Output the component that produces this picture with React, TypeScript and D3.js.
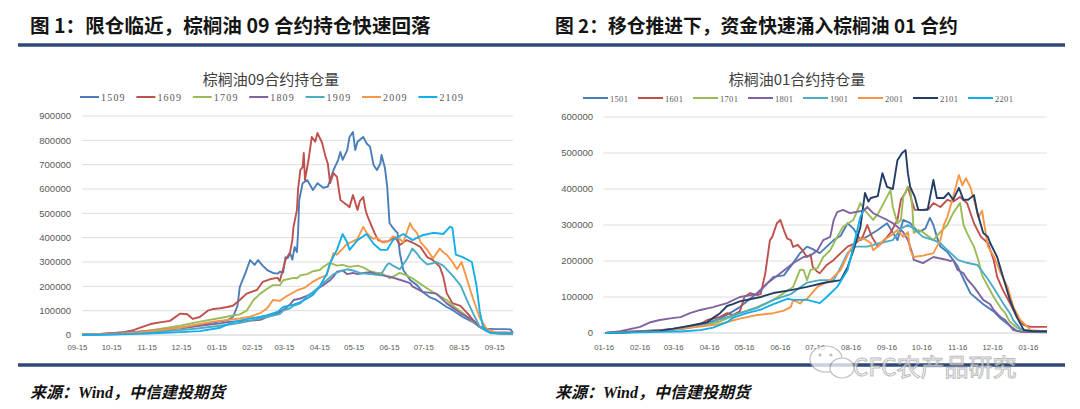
import React from "react";
import * as d3 from "d3";

// ---------- Figure 1: palm oil 09 contracts (open interest, thousand lots) ----------
const leftContracts = ["1509", "1609", "1709", "1809", "1909", "2009", "2109"];
const leftColors = ["#4A7EBB", "#C0504D", "#9BBB59", "#8064A2", "#4BACC6", "#F79646", "#14AEEB"];
const leftTickDates = [
  "2014-09-15", "2014-10-15", "2014-11-15", "2014-12-15", "2015-01-15", "2015-02-15", "2015-03-15",
  "2015-04-15", "2015-05-15", "2015-06-15", "2015-07-15", "2015-08-15", "2015-09-15",
];
const leftYTicks = [0, 100000, 200000, 300000, 400000, 500000, 600000, 700000, 800000, 900000];
const leftBase = "2014-09-15";
const leftDomain = ["2014-09-19", "2015-10-01"];

// [day offset from base date, open interest in thousands]
const s1509: [number, number][] = [
  [4, 1], [20, 3], [38, 8], [55, 14], [64, 18], [81, 25], [96, 32], [107, 42], [119, 52], [131, 60], [136, 74],
  [140, 120], [142, 197], [147, 255], [151, 308], [155, 288], [158, 308], [162, 285], [166, 267], [171, 255],
  [175, 252], [177, 260], [180, 257], [182, 320], [184, 316], [186, 337], [188, 310], [190, 362], [192, 341],
  [193, 420], [194, 555], [197, 624], [201, 637], [206, 596], [210, 624], [215, 605], [219, 610], [224, 678],
  [228, 719], [230, 752], [232, 720], [236, 760], [238, 814], [241, 834], [243, 760], [245, 794], [250, 814],
  [253, 787], [256, 773], [259, 699], [262, 678], [265, 705], [266, 740], [269, 686], [271, 608], [273, 460],
  [276, 440], [280, 419], [282, 337], [285, 267], [291, 226], [297, 205], [302, 177], [308, 156], [314, 144],
  [323, 115], [328, 103], [337, 74], [346, 53], [352, 33], [358, 26], [365, 24], [374, 24], [379, 23], [381, 8],
];
const s1609: [number, number][] = [
  [4, 1], [20, 4], [38, 10], [49, 20], [55, 30], [64, 45], [72, 52], [81, 58], [90, 88], [96, 85], [101, 66],
  [107, 74], [114, 100], [119, 107], [125, 110], [131, 115], [136, 120], [142, 144], [148, 170], [157, 185],
  [162, 218], [169, 230], [175, 235], [177, 222], [182, 308], [186, 340], [188, 390], [189, 444], [192, 514],
  [193, 600], [195, 678], [197, 690], [198, 748], [199, 637], [202, 715], [205, 814], [208, 794], [210, 830],
  [214, 790], [217, 733], [219, 705], [221, 624], [224, 665], [227, 650], [230, 555], [234, 540], [236, 534],
  [238, 525], [241, 575], [245, 514], [247, 550], [250, 567], [252, 514], [254, 485], [258, 440], [260, 419],
  [263, 390], [267, 383], [272, 385], [278, 403], [282, 370], [288, 390], [293, 380], [300, 362], [306, 320],
  [311, 308], [317, 280], [320, 240], [323, 172], [328, 131], [335, 120], [341, 90], [346, 62], [352, 33],
  [358, 20], [365, 12], [374, 10], [381, 9],
];
const s1709: [number, number][] = [
  [4, 1], [20, 3], [38, 7], [55, 14], [72, 25], [90, 38], [107, 55], [125, 70], [136, 80], [142, 85], [148, 100],
  [154, 144], [160, 170], [166, 190], [171, 205], [177, 205], [180, 225], [189, 235], [192, 233], [195, 245],
  [201, 250], [203, 255], [206, 262], [212, 267], [215, 280], [219, 292], [221, 296], [227, 285], [232, 288],
  [238, 280], [245, 285], [250, 278], [256, 262], [262, 255], [265, 255], [271, 240], [273, 233], [278, 245],
  [282, 255], [288, 245], [293, 233], [300, 210], [308, 185], [315, 165], [323, 144], [330, 115], [337, 90],
  [346, 55], [352, 33], [358, 18], [365, 8], [374, 6], [381, 5],
];
const s1809: [number, number][] = [
  [4, 1], [20, 4], [38, 9], [55, 14], [72, 20], [90, 28], [107, 38], [125, 48], [134, 55], [148, 58], [160, 62],
  [166, 74], [175, 90], [180, 103], [186, 125], [189, 144], [193, 148], [195, 150], [203, 165], [210, 190],
  [215, 205], [221, 225], [224, 240], [227, 260], [232, 265], [236, 250], [241, 255], [245, 250], [250, 255],
  [256, 258], [262, 250], [267, 245], [273, 240], [282, 227], [291, 213], [293, 200], [302, 177], [314, 170],
  [323, 130], [335, 90], [346, 60], [352, 33], [358, 18], [365, 8], [374, 5], [381, 4],
];
const s1909: [number, number][] = [
  [4, 0], [20, 2], [38, 4], [55, 8], [72, 14], [90, 20], [107, 28], [125, 38], [136, 45], [148, 55], [160, 70],
  [169, 78], [177, 86], [180, 100], [186, 110], [189, 120], [195, 130], [201, 160], [206, 175], [212, 200],
  [218, 225], [224, 250], [230, 262], [236, 270], [241, 265], [247, 255], [256, 250], [265, 245], [271, 290],
  [273, 295], [276, 285], [282, 270], [288, 310], [293, 355], [297, 335], [300, 315], [306, 290], [311, 295],
  [314, 300], [320, 285], [323, 270], [328, 245], [335, 205], [341, 140], [346, 90], [352, 33], [358, 15],
  [365, 8], [374, 6], [381, 5],
];
const s2009: [number, number][] = [
  [4, 1], [20, 3], [38, 6], [55, 12], [72, 20], [90, 30], [107, 45], [119, 55], [131, 62], [142, 68], [151, 75],
  [160, 90], [166, 110], [171, 144], [177, 140], [183, 160], [192, 183], [199, 195], [205, 216], [212, 235],
  [218, 245], [224, 337], [227, 330], [232, 355], [236, 375], [241, 385], [245, 395], [250, 444], [253, 420],
  [256, 405], [259, 395], [262, 400], [267, 380], [272, 385], [276, 405], [282, 395], [285, 380], [288, 420],
  [291, 460], [293, 440], [297, 420], [300, 383], [306, 350], [311, 315], [317, 355], [320, 340], [323, 330],
  [328, 300], [332, 270], [336, 300], [341, 225], [346, 150], [352, 70], [358, 25], [365, 10], [374, 6], [381, 5],
];
const s2109: [number, number][] = [
  [4, 0], [20, 1], [38, 3], [55, 5], [72, 8], [90, 12], [107, 16], [125, 30], [136, 53], [148, 65], [160, 75],
  [166, 82], [175, 95], [180, 115], [189, 125], [195, 135], [201, 150], [206, 165], [212, 200], [218, 250],
  [221, 296], [227, 350], [230, 390], [232, 415], [236, 380], [238, 350], [245, 390], [253, 415], [259, 375],
  [265, 350], [271, 350], [276, 390], [285, 415], [293, 390], [302, 410], [311, 420], [320, 415], [326, 445],
  [328, 440], [331, 330], [337, 320], [345, 300], [349, 205], [352, 95], [355, 30], [361, 8], [374, 6], [381, 5],
];
const leftSeries = [s1509, s1609, s1709, s1809, s1909, s2009, s2109];

// ---------- Figure 2: palm oil 01 contracts ----------
const rightContracts = ["1501", "1601", "1701", "1801", "1901", "2001", "2101", "2201"];
const rightColors = ["#4A7EBB", "#C0504D", "#9BBB59", "#8064A2", "#4BACC6", "#F79646", "#243F66", "#14AEEB"];
const rightTickDates = [
  "2016-01-16", "2016-02-16", "2016-03-16", "2016-04-16", "2016-05-16", "2016-06-16", "2016-07-16",
  "2016-08-16", "2016-09-16", "2016-10-16", "2016-11-16", "2016-12-16", "2017-01-16",
];
const rightYTicks = [0, 100000, 200000, 300000, 400000, 500000, 600000];
const rightBase = "2016-01-16";
const rightDomain = ["2016-01-15", "2017-02-01"];

const r1501: [number, number][] = [
  [1, 0], [14, 2], [31, 5], [48, 8], [60, 12], [74, 18], [89, 28], [100, 40], [111, 60], [117, 72], [126, 95],
  [132, 111], [141, 139], [146, 156], [155, 160], [163, 194], [169, 222], [175, 240], [180, 233], [186, 222],
  [192, 240], [198, 258], [204, 270], [210, 305], [215, 290], [221, 258], [228, 270], [236, 286], [244, 305],
  [253, 258], [258, 314], [264, 305], [271, 280], [277, 290], [281, 320], [284, 300], [287, 267], [290, 240],
  [296, 225], [305, 185], [310, 150], [316, 110], [327, 80], [336, 60], [342, 40], [350, 20], [356, 6],
  [365, 3], [382, 3],
];
const r1601: [number, number][] = [
  [1, 0], [14, 2], [31, 5], [48, 8], [66, 12], [83, 25], [89, 36], [100, 45], [106, 55], [111, 50], [117, 60],
  [121, 100], [126, 111], [132, 105], [135, 108], [139, 166], [143, 258], [145, 267], [149, 305], [152, 314],
  [155, 286], [158, 262], [161, 258], [163, 239], [167, 245], [171, 230], [175, 211], [178, 218], [180, 183],
  [184, 170], [186, 166], [192, 189], [198, 203], [204, 222], [210, 240], [217, 250], [223, 267], [227, 300],
  [231, 267], [236, 240], [241, 255], [247, 278], [253, 314], [256, 370], [260, 390], [262, 406], [266, 360],
  [268, 342], [275, 342], [280, 345], [284, 361], [290, 350], [296, 370], [301, 365], [307, 378], [313, 361],
  [319, 305], [325, 267], [331, 250], [336, 203], [339, 156], [344, 119], [350, 83], [356, 44], [362, 22],
  [368, 17], [382, 17],
];
const r1701: [number, number][] = [
  [1, 0], [14, 1], [31, 3], [48, 6], [66, 12], [83, 20], [100, 32], [117, 55], [132, 72], [146, 92], [163, 128],
  [169, 176], [172, 175], [175, 147], [178, 175], [184, 180], [189, 211], [195, 230], [201, 267], [206, 295],
  [215, 314], [221, 361], [225, 340], [232, 314], [236, 330], [244, 378], [247, 397], [249, 350], [253, 305],
  [256, 314], [258, 378], [262, 406], [264, 403], [266, 342], [267, 278], [271, 286], [275, 280], [284, 258],
  [290, 280], [296, 300], [301, 333], [307, 361], [310, 300], [313, 278], [316, 258], [319, 240], [323, 200],
  [326, 160], [331, 130], [336, 100], [342, 70], [346, 55], [350, 31], [356, 15], [362, 5], [370, 3], [382, 3],
];
const r1801: [number, number][] = [
  [1, 0], [14, 5], [31, 17], [40, 30], [48, 36], [60, 42], [66, 44], [74, 55], [83, 64], [94, 72], [106, 83],
  [117, 100], [132, 108], [141, 139], [152, 166], [163, 194], [172, 211], [178, 215], [184, 230], [189, 258],
  [195, 267], [198, 314], [201, 336], [206, 342], [212, 333], [217, 336], [224, 340], [227, 350], [232, 333],
  [237, 325], [244, 314], [249, 305], [253, 295], [258, 280], [262, 258], [266, 220], [267, 203], [270, 200],
  [275, 194], [284, 211], [293, 205], [299, 200], [301, 203], [305, 175], [310, 166], [313, 150], [319, 128],
  [327, 92], [333, 80], [336, 64], [342, 44], [346, 36], [353, 8], [360, 3], [382, 2],
];
const r1901: [number, number][] = [
  [1, 0], [14, 1], [31, 3], [48, 5], [66, 10], [83, 20], [100, 38], [117, 55], [132, 70], [146, 92], [161, 108],
  [175, 140], [186, 147], [198, 147], [204, 183], [210, 222], [217, 240], [227, 240], [238, 250], [249, 258],
  [256, 290], [262, 300], [267, 290], [275, 267], [284, 258], [290, 250], [293, 240], [299, 222], [305, 203],
  [313, 195], [322, 189], [331, 150], [339, 110], [344, 83], [350, 55], [353, 35], [359, 12], [368, 5], [382, 4],
];
const r2001: [number, number][] = [
  [1, 0], [14, 1], [31, 3], [48, 6], [66, 12], [83, 18], [100, 25], [117, 40], [132, 50], [146, 55], [155, 62],
  [161, 72], [163, 92], [169, 82], [172, 92], [175, 95], [184, 128], [195, 147], [204, 175], [212, 230],
  [218, 258], [224, 262], [230, 250], [232, 230], [236, 240], [241, 258], [247, 270], [253, 286], [258, 267],
  [262, 280], [264, 230], [267, 211], [275, 215], [284, 222], [290, 258], [293, 300], [296, 322], [301, 378],
  [306, 439], [309, 410], [312, 430], [316, 405], [319, 370], [323, 322], [326, 340], [331, 240], [336, 214],
  [342, 167], [348, 128], [353, 72], [359, 36], [368, 8], [379, 5], [382, 5],
];
const r2101: [number, number][] = [
  [1, 0], [14, 1], [31, 3], [48, 6], [60, 12], [74, 20], [89, 30], [94, 42], [100, 55], [106, 75], [111, 80],
  [117, 88], [135, 100], [146, 111], [161, 119], [175, 128], [189, 139], [204, 147], [210, 183], [215, 230],
  [221, 294], [225, 389], [228, 365], [230, 375], [236, 380], [240, 444], [244, 406], [249, 400], [253, 480],
  [257, 500], [260, 508], [262, 444], [264, 406], [268, 378], [271, 342], [279, 342], [284, 425], [287, 375],
  [293, 375], [297, 389], [301, 370], [306, 403], [310, 370], [314, 370], [319, 383], [322, 333], [327, 278],
  [331, 267], [333, 250], [339, 211], [344, 156], [350, 92], [356, 44], [362, 8], [370, 5], [382, 5],
];
const r2201: [number, number][] = [
  [1, 0], [14, 1], [31, 2], [48, 3], [66, 4], [83, 8], [94, 15], [106, 30], [111, 42], [123, 55], [135, 65],
  [146, 80], [158, 95], [163, 92], [175, 92], [186, 83], [192, 100], [201, 128], [210, 175], [215, 240],
  [221, 322], [224, 342],
];
const rightSeries = [r1501, r1601, r1701, r1801, r1901, r2001, r2101, r2201];

const parse = d3.timeParse("%Y-%m-%d");
const fmtTick = d3.timeFormat("%m-%d");

type PanelProps = {
  ox: number;
  heading: string;
  headingSize: number;
  chartTitle: string;
  titleCx: number;
  names: string[];
  colors: string[];
  series: [number, number][][];
  base: string;
  domain: string[];
  xRange: [number, number];
  yTicks: number[];
  yRange: [number, number];
  ticks: string[];
  yLabelX: number;
  legendX0: number;
  legendStep: number;
  legendLineLen: number;
  legendY: number;
  legendFont: number;
  legendSpacing: number;
};

function Panel(p: PanelProps) {
  const base = parse(p.base)!;
  const x = d3.scaleTime().domain(p.domain.map((d) => parse(d)!)).range(p.xRange);
  const y = d3.scaleLinear().domain([0, p.yTicks[p.yTicks.length - 1]]).range(p.yRange);
  const line = d3
    .line<[number, number]>()
    .x((d) => x(d3.timeDay.offset(base, d[0])))
    .y((d) => y(d[1] * 1000));
  const legX = d3.scaleLinear().domain([0, 1]).range([p.legendX0, p.legendX0 + p.legendStep]);
  const axisFont = "'Liberation Sans', Arial, sans-serif";
  return (
    <g>
      <text x={p.ox} y={33} fontFamily="'Noto Sans CJK SC', sans-serif" fontWeight={700} fontSize={p.headingSize} fill="#151515">
        {p.heading}
      </text>
      <text
        x={p.titleCx}
        y={85}
        textAnchor="middle"
        fontFamily="'Noto Sans CJK SC', sans-serif"
        fontSize={15}
        fill="#404040"
      >
        {p.chartTitle}
      </text>
      {p.names.map((n, i) => (
        <g key={n}>
          <line
            x1={legX(i)}
            x2={legX(i) + p.legendLineLen}
            y1={p.legendY}
            y2={p.legendY}
            stroke={p.colors[i]}
            strokeWidth={2}
          />
          <text
            x={legX(i) + p.legendLineLen + 2}
            y={p.legendY + 3.5}
            fontFamily="'Liberation Serif', serif"
            fontSize={p.legendFont}
            letterSpacing={p.legendSpacing}
            fill="#595959"
          >
            {n}
          </text>
        </g>
      ))}
      {p.yTicks.map((t) => (
        <g key={t}>
          <line x1={p.xRange[0]} x2={p.xRange[1]} y1={y(t)} y2={y(t)} stroke={t === 0 ? "#cfcfcf" : "#dedede"} strokeWidth={1} />
          <text x={p.yLabelX} y={y(t) + 3.3} textAnchor="end" fontFamily={axisFont} fontSize={9.5} fill="#595959">
            {t}
          </text>
        </g>
      ))}
      {p.ticks.map((t) => (
        <text key={t} x={x(parse(t)!)} y={350} textAnchor="middle" fontFamily={axisFont} fontSize={7.8} fill="#595959">
          {fmtTick(parse(t)!)}
        </text>
      ))}
      {p.series.map((s, i) => (
        <path
          key={p.names[i]}
          d={line(s) || ""}
          fill="none"
          stroke={p.colors[i]}
          strokeWidth={1.9}
          strokeLinejoin="round"
        />
      ))}
      <text
        x={p.ox}
        y={398}
        fontFamily="'Liberation Serif', 'Noto Sans CJK SC', serif"
        fontStyle="italic"
        fontWeight={700}
        fontSize={16}
        fill="#111"
      >
        来源：Wind，中信建投期货
      </text>
    </g>
  );
}

export default function App() {
  return (
    <svg
      width={1080}
      height={409}
      viewBox="0 0 1080 409"
      style={{ position: "absolute", left: 0, top: 0, background: "#fff" }}
    >
      <rect x={0} y={0} width={1080} height={409} fill="#fff" />
      <line x1={18} x2={1065} y1={45} y2={45} stroke="#2D4A7A" strokeWidth={3.5} />
      <line x1={18} x2={1065} y1={365} y2={365} stroke="#2D4A7A" strokeWidth={3.5} />
      <Panel
        ox={30}
        heading="图 1：限仓临近，棕榈油 09 合约持仓快速回落"
        headingSize={19.6}
        chartTitle="棕榈油09合约持仓量"
        titleCx={271}
        names={leftContracts}
        colors={leftColors}
        series={leftSeries}
        base={leftBase}
        domain={leftDomain}
        xRange={[82, 513]}
        yTicks={leftYTicks}
        yRange={[335, 116]}
        ticks={leftTickDates}
        yLabelX={71}
        legendX0={80}
        legendStep={56.4}
        legendLineLen={19}
        legendY={97}
        legendFont={10}
        legendSpacing={1.2}
      />
      <Panel
        ox={555}
        heading="图 2：移仓推进下，资金快速涌入棕榈油 01 合约"
        headingSize={18.8}
        chartTitle="棕榈油01合约持仓量"
        titleCx={797}
        names={rightContracts}
        colors={rightColors}
        series={rightSeries}
        base={rightBase}
        domain={rightDomain}
        xRange={[603, 1047]}
        yTicks={rightYTicks}
        yRange={[333, 117]}
        ticks={rightTickDates}
        yLabelX={593}
        legendX0={583}
        legendStep={55}
        legendLineLen={25}
        legendY={98}
        legendFont={8.5}
        legendSpacing={0.3}
      />
      <g opacity={0.75}>
        <ellipse cx={826} cy={359} rx={16} ry={13} fill="#fff" stroke="#aaa" strokeWidth={1.2} />
        <ellipse cx={842} cy={368} rx={12} ry={10} fill="#fff" stroke="#aaa" strokeWidth={1.2} />
        <circle cx={820} cy={355} r={1.6} fill="#aaa" />
        <circle cx={831} cy={355} r={1.6} fill="#aaa" />
        <text
          x={853}
          y={376}
          fontFamily="'Noto Sans CJK SC', sans-serif"
          fontSize={24}
          fill="#fff"
          stroke="#a8a8a8"
          strokeWidth={1}
        >
          CFC农产品研究
        </text>
      </g>
    </svg>
  );
}
